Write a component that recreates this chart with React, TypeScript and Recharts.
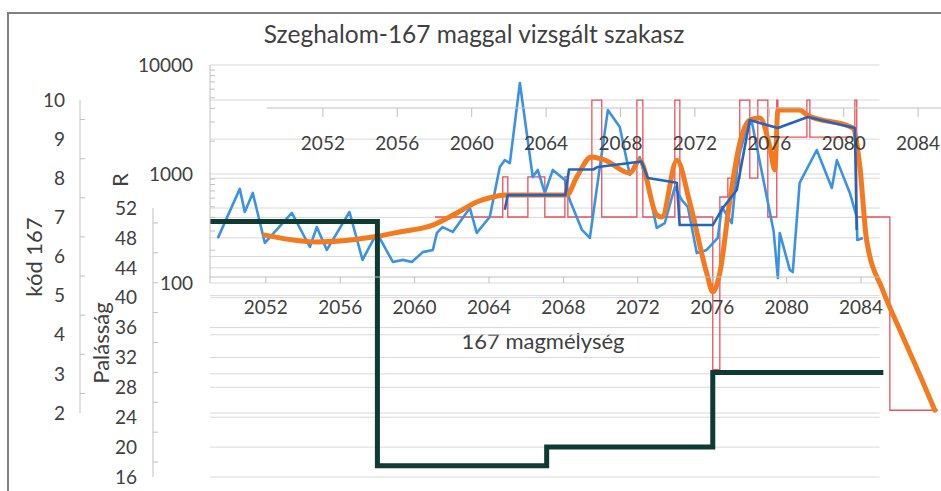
import React from 'react';
import { ComposedChart, Line, XAxis, YAxis, ReferenceLine } from 'recharts';

// ---- tick labels ----
const depthTicks = [2052, 2056, 2060, 2064, 2068, 2072, 2076, 2080, 2084];
const kodTicks = [2, 3, 4, 5, 6, 7, 8, 9, 10];
const kodMinor = [2.5, 3.5, 4.5, 5.5, 6.5, 7.5, 8.5, 9.5];
const palTicks = [16, 20, 24, 28, 32, 36, 40, 44, 48, 52];
const palMinor = [18, 22, 26, 30, 34, 38, 42, 46, 50];
const rTicks = [100, 1000, 10000];
const rMinor = [200, 300, 400, 500, 600, 700, 800, 900, 2000, 3000, 4000, 5000, 6000, 7000, 8000, 9000];

// ---- series (depth in m, value) ----
const lightBlue = [
  { d: 2049.42, v: 258 }, { d: 2050.6, v: 730 }, { d: 2050.87, v: 448 }, { d: 2051.3, v: 670 },
  { d: 2051.95, v: 233 }, { d: 2053.4, v: 439 }, { d: 2054.37, v: 214 }, { d: 2054.74, v: 326 },
  { d: 2055.28, v: 201 }, { d: 2056.5, v: 448 }, { d: 2057.2, v: 163 }, { d: 2057.97, v: 288 },
  { d: 2058.83, v: 156 }, { d: 2059.37, v: 163 }, { d: 2059.85, v: 156 }, { d: 2060.44, v: 192 },
  { d: 2060.98, v: 201 }, { d: 2061.2, v: 288 }, { d: 2061.5, v: 326 }, { d: 2062.05, v: 294 },
  { d: 2062.97, v: 488 }, { d: 2063.34, v: 288 }, { d: 2064.04, v: 403 }, { d: 2064.58, v: 1160 },
  { d: 2064.85, v: 1340 }, { d: 2065.12, v: 1260 }, { d: 2065.66, v: 6840 }, { d: 2066.35, v: 940 },
  { d: 2066.62, v: 1090 }, { d: 2067.0, v: 670 }, { d: 2067.43, v: 1090 }, { d: 2068.08, v: 880 },
  { d: 2068.34, v: 577 }, { d: 2069.0, v: 307 }, { d: 2069.42, v: 259 }, { d: 2070.39, v: 3860 },
  { d: 2071.03, v: 2700 }, { d: 2071.57, v: 980 }, { d: 2072.1, v: 1430 }, { d: 2072.54, v: 760 },
  { d: 2073.02, v: 320 }, { d: 2073.45, v: 355 }, { d: 2073.99, v: 760 }, { d: 2074.37, v: 577 },
  { d: 2074.69, v: 498 }, { d: 2075.17, v: 188 }, { d: 2075.7, v: 201 }, { d: 2076.3, v: 260 },
  { d: 2076.52, v: 498 }, { d: 2077.05, v: 355 }, { d: 2077.38, v: 1340 }, { d: 2077.86, v: 2700 },
  { d: 2078.13, v: 3000 }, { d: 2078.56, v: 1290 }, { d: 2079.3, v: 300 }, { d: 2079.53, v: 111 },
  { d: 2079.63, v: 288 }, { d: 2080.17, v: 132 }, { d: 2080.33, v: 126 }, { d: 2080.7, v: 830 },
  { d: 2081.62, v: 1660 }, { d: 2082.43, v: 745 }, { d: 2082.7, v: 1340 }, { d: 2083.4, v: 670 },
  { d: 2083.77, v: 403 }, { d: 2083.8, v: 248 }, { d: 2084.1, v: 259 },
];

const darkBlue = [
  { d: 2064.85, v: 470 }, { d: 2065.0, v: 640 }, { d: 2068.1, v: 640 }, { d: 2068.3, v: 1100 },
  { d: 2069.6, v: 1100 }, { d: 2069.85, v: 1160 }, { d: 2072.2, v: 1300 }, { d: 2072.54, v: 918 },
  { d: 2074.1, v: 830 }, { d: 2074.25, v: 340 }, { d: 2076.03, v: 340 }, { d: 2076.57, v: 488 },
  { d: 2077.32, v: 713 }, { d: 2078.02, v: 3130 }, { d: 2078.56, v: 2940 }, { d: 2079.53, v: 2640 },
  { d: 2081.14, v: 3330 }, { d: 2083.67, v: 2640 }, { d: 2083.77, v: 307 },
];

const orange = [
  { d: 2051.95, v: 275 }, { d: 2054.74, v: 238 }, { d: 2057.75, v: 264 }, { d: 2059.2, v: 294 },
  { d: 2060.98, v: 340 }, { d: 2062.27, v: 439 }, { d: 2063.34, v: 553 }, { d: 2064.2, v: 615 },
  { d: 2064.85, v: 641 }, { d: 2068.18, v: 641 }, { d: 2068.72, v: 940 }, { d: 2069.5, v: 1430 },
  { d: 2070.23, v: 1340 }, { d: 2071.57, v: 1020 }, { d: 2072.1, v: 1340 }, { d: 2073.02, v: 421 },
  { d: 2073.29, v: 403 }, { d: 2074.1, v: 1340 }, { d: 2074.8, v: 542 }, { d: 2075.7, v: 124 },
  { d: 2076.03, v: 83 }, { d: 2076.41, v: 124 }, { d: 2076.95, v: 577 }, { d: 2077.48, v: 1920 },
  { d: 2078.02, v: 3130 }, { d: 2078.56, v: 3270 }, { d: 2079.1, v: 1770 }, { d: 2079.37, v: 1090 },
  { d: 2079.53, v: 3860 }, { d: 2080.7, v: 3860 }, { d: 2081.1, v: 3480 }, { d: 2083.56, v: 2640 },
  { d: 2083.94, v: 1160 }, { d: 2084.3, v: 248 }, { d: 2085.17, v: 86 }, { d: 2086.09, v: 37 },
  { d: 2087.16, v: 14.3 }, { d: 2087.97, v: 6.8 },
];

const red = [
  { d: 2061.09, v: 403 }, { d: 2064.74, v: 940 }, { d: 2065.01, v: 403 }, { d: 2066.09, v: 940 },
  { d: 2067.0, v: 403 }, { d: 2068.08, v: 940 }, { d: 2068.24, v: 403 }, { d: 2069.53, v: 4770 },
  { d: 2070.06, v: 403 }, { d: 2071.95, v: 4770 }, { d: 2072.27, v: 403 }, { d: 2073.99, v: 4770 },
  { d: 2074.26, v: 403 }, { d: 2076.03, v: 16 }, { d: 2076.41, v: 615 }, { d: 2076.84, v: 918 },
  { d: 2077.48, v: 4770 }, { d: 2078.02, v: 918 }, { d: 2078.45, v: 4770 }, { d: 2078.99, v: 403 },
  { d: 2079.47, v: 4770 }, { d: 2079.53, v: 2180 }, { d: 2081.09, v: 4770 }, { d: 2081.25, v: 2180 },
  { d: 2083.67, v: 4770 }, { d: 2083.77, v: 403 }, { d: 2085.55, v: 6.8 }, { d: 2088.13, v: 6.8 },
];

const palassag = [
  { d: 2049.0, v: 50.2 }, { d: 2058.0, v: 17.5 }, { d: 2067.1, v: 20 }, { d: 2076.03, v: 30 },
  { d: 2085.2, v: 30 },
];

const GRID = '#d9d9d9';
const AXIS = '#bfbfbf';
const TXT = '#404040';

// x-axis tick label renderers: the axes are drawn at the plot edge and shifted into place
const makeTick = (shift: number) => (props: any) => {
  const { x, y, payload } = props;
  return (
    <text x={x} y={y + shift} textAnchor="middle" fontSize={19} fill={TXT} fontFamily="Lato">
      {payload.value}
    </text>
  );
};
const BotTick = makeTick(-173);
const TopTick = makeTick(-345);

// y-axis ticks: labels on major values, small inward marks on minor values
const makeYTick = (major: number[], toAxis: number) => (props: any) => {
  const { x, y, payload } = props;
  if (major.includes(payload.value)) {
    return (
      <text x={x} y={y} dy="0.355em" textAnchor="end" fontSize={19} fill={TXT} fontFamily="Lato">
        {payload.value}
      </text>
    );
  }
  const ax = x + toAxis;
  return <line x1={ax} x2={ax + 5} y1={y} y2={y} stroke={AXIS} />;
};
const RTick = makeYTick(rTicks, 17);
const PalTick = makeYTick(palTicks, 16);
const KodTick = makeYTick(kodTicks, 15);

export default function App() {
  const seg = (v: number) => [{ x: 2049, y: v }, { x: 2085, y: v }];
  return (
    <div style={{ position: 'absolute', left: 0, top: 0, width: 941, height: 491, overflow: 'hidden', background: '#fff', fontFamily: 'Lato, "Open Sans", sans-serif' }}>
      <style>{`
        .axis-bot { transform: translateY(-204px); }
        .axis-top { transform: translateY(-378px); }
      `}</style>
      <div style={{ position: 'absolute', left: 7, top: 12, width: 934, height: 479, borderTop: '2px solid #808080', borderLeft: '2px solid #808080', boxSizing: 'border-box' }} />
      <div style={{ position: 'absolute', left: 474, top: 33, transform: 'translate(-50%,-50%)', fontSize: 24.5, color: TXT, whiteSpace: 'nowrap' }}>Szeghalom-167 maggal vizsgált szakasz</div>
      <div style={{ position: 'absolute', left: 33, top: 257, transform: 'translate(-50%,-50%) rotate(-90deg)', fontSize: 22, color: TXT, whiteSpace: 'nowrap' }}>kód 167</div>
      <div style={{ position: 'absolute', left: 100, top: 343, transform: 'translate(-50%,-50%) rotate(-90deg)', fontSize: 22, color: TXT, whiteSpace: 'nowrap' }}>Palásság</div>
      <div style={{ position: 'absolute', left: 119, top: 180, transform: 'translate(-50%,-50%) rotate(-90deg)', fontSize: 22, color: TXT, whiteSpace: 'nowrap' }}>R</div>
      <div style={{ position: 'absolute', left: 543, top: 340, transform: 'translate(-50%,-50%)', fontSize: 22, color: TXT, whiteSpace: 'nowrap' }}>167 magmélység</div>
      <div style={{ position: 'absolute', left: 0, top: 0 }}>
        <ComposedChart width={941} height={491} margin={{ top: 60, right: 0, bottom: 0, left: 10 }}>
          <XAxis xAxisId="x1_bot" dataKey="d" type="number" domain={[2049, 2088.3]} ticks={depthTicks}
            height={5} className="axis-bot" tick={BotTick} tickSize={6} tickMargin={0} interval={0}
            axisLine={{ stroke: AXIS, strokeDasharray: '0 0 670 200' }} tickLine={{ stroke: AXIS }} />
          <XAxis xAxisId="x2_top" dataKey="d" type="number" domain={[2045.93, 2085.23]} ticks={depthTicks}
            allowDataOverflow height={5} className="axis-top" tick={TopTick} tickSize={9} tickMargin={0} interval={0}
            axisLine={{ stroke: AXIS, strokeDasharray: '0 57 800' }} tickLine={{ stroke: AXIS }} />
          <YAxis yAxisId="y1_r" type="number" scale="log" domain={[1.526, 11113]} ticks={[...rTicks, ...rMinor]} width={57}
            tick={RTick} tickLine={false} tickSize={6} tickMargin={11} interval={0}
            axisLine={{ stroke: AXIS, strokeDasharray: '0 5 218 500' }} />
          <YAxis yAxisId="y2_pal" type="number" domain={[15.465, 71.81]} ticks={[...palTicks, ...palMinor]} width={73}
            tick={PalTick} tickLine={false} tickSize={6} tickMargin={10} interval={0}
            axisLine={{ stroke: AXIS, strokeDasharray: '0 148 269 500' }} />
          <YAxis yAxisId="y3_kod" type="number" domain={[0.262, 11.022]} ticks={[...kodTicks, ...kodMinor]} width={70}
            allowDataOverflow tick={KodTick} tickLine={false} tickSize={6} tickMargin={9} interval={0}
            axisLine={{ stroke: AXIS, strokeDasharray: '0 40 313 500' }} />

          {kodTicks.map((v) => (
            <ReferenceLine key={'k' + v} xAxisId="x1_bot" yAxisId="y3_kod" segment={seg(v)} stroke={GRID} />
          ))}
          {palTicks.map((v) => (
            <ReferenceLine key={'p' + v} xAxisId="x1_bot" yAxisId="y2_pal" segment={seg(v)} stroke={GRID} />
          ))}
          {rTicks.map((v) => (
            <ReferenceLine key={'r' + v} xAxisId="x1_bot" yAxisId="y1_r" segment={seg(v)} stroke={GRID} />
          ))}

          <Line data={red} xAxisId="x1_bot" yAxisId="y1_r" dataKey="v" type="stepAfter" stroke="#e8525a" strokeWidth={1.3} dot={false} isAnimationActive={false} />
          <Line data={lightBlue} xAxisId="x1_bot" yAxisId="y1_r" dataKey="v" type="linear" stroke="#3a92e6" strokeWidth={2.6} dot={false} strokeLinejoin="round" isAnimationActive={false} />
          <Line data={orange} xAxisId="x1_bot" yAxisId="y1_r" dataKey="v" type="monotone" stroke="#f47a20" strokeWidth={5} dot={false} strokeLinecap="round" isAnimationActive={false} />
          <Line data={darkBlue} xAxisId="x1_bot" yAxisId="y1_r" dataKey="v" type="linear" stroke="#2464be" strokeWidth={2.6} dot={false} strokeLinejoin="round" isAnimationActive={false} />
          <Line data={palassag} xAxisId="x1_bot" yAxisId="y2_pal" dataKey="v" type="stepAfter" stroke="#0e3a31" strokeWidth={5} dot={false} isAnimationActive={false} />
        </ComposedChart>
      </div>
    </div>
  );
}
